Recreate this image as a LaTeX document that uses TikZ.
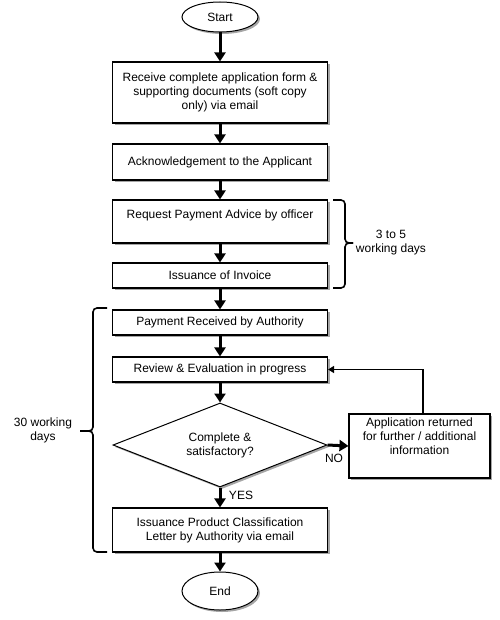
\documentclass[tikz,border=0pt]{standalone}
\usepackage{fontspec}
\setmainfont{Liberation Sans}
\usetikzlibrary{shapes.geometric,arrows.meta,shadows}
\begin{document}
\begin{tikzpicture}[x=1pt,y=-1pt,
  font=\fontsize{12}{14}\selectfont,
  shad/.style={drop shadow={shadow xshift=2pt,shadow yshift=-2pt,fill=black,opacity=0.35}},
  box/.style={draw,line width=1.1pt,fill=white,shad,minimum width=215pt,align=center,inner sep=2pt},
  term/.style={draw,ellipse,line width=1pt,fill=white,shad,minimum width=76pt,inner sep=1pt},
  arr/.style={line width=3pt,-{Triangle[width=11pt,length=9pt]}},
  thinarr/.style={line width=1.5pt,-{Triangle[width=7pt,length=6pt]}},
  brace/.style={line width=1.6pt,rounded corners=4pt}]
\useasboundingbox (0,0) rectangle (499,620);
\fill[white] (0,0) rectangle (499,620);
\node[term,minimum height=30pt] (start) at (220,17) {Start};
\node[box,minimum height=61pt] (b1) at (220,92.5) {Receive complete application form \&\\supporting documents (soft copy\\only) via email};
\node[box,minimum height=36pt] (b2) at (220,162) {Acknowledgement to the Applicant};
\node[box,minimum height=43pt] (b3) at (220,221.5) {Request Payment Advice by officer\\[0pt]~};
\node[box,minimum height=25pt] (b4) at (220,275.5) {Issuance of Invoice};
\node[box,minimum height=25pt] (b5) at (220,322.5) {Payment Received by Authority};
\node[box,minimum height=25pt] (b6) at (220,369.5) {Review \& Evaluation in progress};
\node[draw,diamond,line width=1pt,fill=white,shad,minimum width=214pt,minimum height=84pt,aspect=2.55,inner sep=0pt,align=center] (d) at (220,445) {Complete \&\\satisfactory?};
\node[box,minimum width=141pt,minimum height=64pt] (ret) at (419.5,446) {Application returned\\for further / additional\\information\\[6pt]};
\node[box,minimum height=44pt] (b7) at (220,530) {Issuance Product Classification\\Letter by Authority via email};
\node[term,minimum height=38pt] (end) at (220,591) {End};
\draw[arr] (start.south) -- (b1.north);
\draw[arr] (b1.south) -- (b2.north);
\draw[arr] (b2.south) -- (b3.north);
\draw[arr] (b3.south) -- (b4.north);
\draw[arr] (b4.south) -- (b5.north);
\draw[arr] (b5.south) -- (b6.north);
\draw[arr] (b6.south) -- (d.north);
\draw[arr] (d.east) -- (ret.west);
\draw[arr] (d.south) -- (b7.north);
\draw[arr] (b7.south) -- (end.north);
\draw[thinarr] ([xshift=3.5pt]ret.north) |- (b6.east);
\node (no) at (334,458) {NO};
\node (yes) at (241,495) {YES};
\draw[brace] (333,200) -- (345,200) -- (345,243) -- (353,243);
\draw[brace] (333,288) -- (345,288) -- (345,243) -- (353,243);
\node[align=center] (t35) at (391,243) {3 to 5\\working days};
\draw[brace] (107,308) -- (93,308) -- (93,431) -- (80,431);
\draw[brace] (107,552) -- (93,552) -- (93,431) -- (80,431);
\node[align=center] (t30) at (43,430) {30 working\\days};
\end{tikzpicture}
\end{document}
